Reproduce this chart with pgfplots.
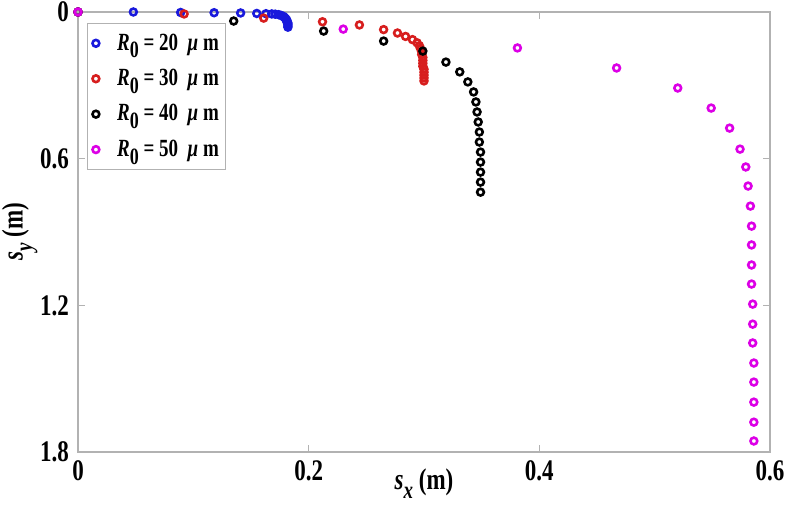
\documentclass[border=0pt]{standalone}
\usepackage{fontspec}
\setmainfont{Liberation Serif}
\usepackage{graphicx}
\usepackage{pgfplots}
\pgfplotsset{compat=1.18}
\definecolor{mblue}{RGB}{25,25,220}
\definecolor{mred}{RGB}{215,30,30}
\definecolor{mblack}{RGB}{0,0,0}
\definecolor{mmag}{RGB}{220,0,230}
\newcommand{\vs}[1]{\scalebox{1}[1.3]{#1}}
\newcommand{\Rlab}[1]{\vs{\textit{R}\raisebox{-0.7ex}{\fontsize{9}{9}\selectfont 0} = #1~~\textit{μ} m}}
\begin{document}
\begin{tikzpicture}
\begin{axis}[
  scale only axis,
  width=346pt, height=220pt,
  xmin=0, xmax=0.6, ymin=0, ymax=1.8,
  y dir=reverse,
  xtick={0,0.2,0.4,0.6}, ytick={0,0.6,1.2,1.8},
  tick align=inside,
  major tick length=3.5pt,
  axis line style={gray!60, line width=0.6pt},
  tick style={gray!60, line width=0.6pt},
  clip=false,
  /pgf/number format/assume math mode=true,
  ticklabel style={font=\bfseries\fontsize{11.5}{12}\selectfont},
  xticklabel={\vs{\pgfmathprintnumber{\tick}}},
  yticklabel={\vs{\pgfmathprintnumber{\tick}}},
  xticklabel style={yshift=-1pt},
  yticklabel style={xshift=-1pt},
  xlabel={\vs{\textit{s}\raisebox{-0.7ex}{\fontsize{9.5}{10}\selectfont\textit{x}} (m)}},
  ylabel={\vs{\textit{s}\raisebox{-0.7ex}{\fontsize{9.5}{10}\selectfont\textit{y}} (m)}},
  label style={font=\bfseries\fontsize{11.5}{12}\selectfont},
  xlabel style={at={(axis description cs:0.5,0)}, anchor=north, yshift=-8pt, inner sep=0pt},
  ylabel style={at={(axis description cs:-0.058,0.5)}, anchor=south, inner sep=0pt},
  every axis plot/.append style={only marks, mark=o, mark size=1.7pt, line width=1.3pt},
  legend image code/.code={\path (-2pt,0pt) (2pt,0pt); \draw[#1] plot coordinates {(0pt,0pt)};},
  legend cell align=left,
  legend style={at={(0.013,0.975)}, anchor=north west, draw=gray!60, fill=white,
    line width=0.6pt,
    font=\bfseries\fontsize{9.5}{10}\selectfont,
    inner xsep=1.5pt, inner ysep=3pt, row sep=4pt,
    /tikz/every odd column/.append style={column sep=6pt}},
]
\addplot[mblue] coordinates {
(0,0) (0.048,0.000) (0.089,0.002) (0.118,0.003) (0.141,0.004) (0.155,0.006)
(0.163,0.007) (0.168,0.008) (0.171,0.009) (0.174,0.011) (0.176,0.014)
(0.178,0.018) (0.179,0.022) (0.180,0.027) (0.181,0.033) (0.181,0.039)
(0.182,0.045) (0.182,0.051) (0.182,0.057) (0.182,0.062)
};
\addlegendentry{\Rlab{20}}
\addplot[mred] coordinates {
(0,0) (0.092,0.008) (0.161,0.025) (0.212,0.040) (0.244,0.053) (0.265,0.072)
(0.277,0.086) (0.284,0.100) (0.290,0.113) (0.294,0.126) (0.296,0.138)
(0.297,0.150) (0.298,0.162) (0.298,0.174) (0.299,0.186) (0.299,0.198)
(0.299,0.210) (0.299,0.222) (0.300,0.234) (0.300,0.246) (0.300,0.258)
(0.300,0.270) (0.300,0.282)
};
\addlegendentry{\Rlab{30}}
\addplot[mblack] coordinates {
(0,0) (0.135,0.037) (0.213,0.078) (0.265,0.119) (0.299,0.160) (0.319,0.205)
(0.331,0.245) (0.338,0.286) (0.343,0.327) (0.345,0.368) (0.346,0.409)
(0.347,0.450) (0.348,0.491) (0.348,0.532) (0.349,0.573) (0.349,0.614)
(0.349,0.655) (0.349,0.696) (0.349,0.737)
};
\addlegendentry{\Rlab{40}}
\addplot[mmag] coordinates {
(0,0) (0.230,0.070) (0.381,0.147) (0.467,0.229) (0.520,0.311) (0.549,0.393)
(0.565,0.475) (0.574,0.561) (0.579,0.634) (0.581,0.712) (0.583,0.794)
(0.584,0.876) (0.584,0.953) (0.584,1.035) (0.584,1.113) (0.585,1.195)
(0.585,1.277) (0.585,1.354) (0.586,1.436) (0.586,1.514) (0.586,1.596)
(0.586,1.678) (0.586,1.755)
};
\addlegendentry{\Rlab{50}}
\end{axis}
\pgfresetboundingbox
\path ([shift={(-39pt,-32pt)}]current axis.south west) rectangle ([shift={(10pt,6pt)}]current axis.north east);
\end{tikzpicture}
\end{document}
